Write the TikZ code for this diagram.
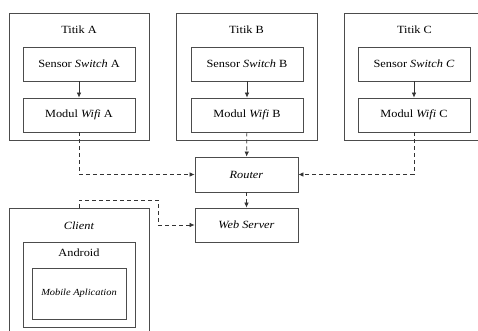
\documentclass[tikz,border=0pt]{standalone}
\usepackage{fontspec}
\setmainfont{Liberation Serif}[FakeStretch=1.12]
\usetikzlibrary{arrows.meta}
\begin{document}
\begin{tikzpicture}[
    x=1pt, y=-1pt,
    outer/.style={rectangle, draw=black!70, line width=0.8pt, minimum width=140pt, minimum height=127pt, inner sep=0pt},
    block/.style={rectangle, draw=black!70, line width=0.8pt, minimum width=112pt, minimum height=34pt, inner sep=0pt, font=\fontsize{11}{13}\selectfont},
    title/.style={inner sep=0pt, font=\fontsize{11}{13}\selectfont},
    line/.style={draw=black!80, line width=0.7pt, -{Latex[length=5pt,width=4.5pt]}},
    link/.style={line, dash pattern=on 4pt off 3pt}
]
    \useasboundingbox (0,0) rectangle (478,331);
    \clip (0,0) rectangle (478,331);

    % three measuring points
    \node [outer] (titikA) at (79,76.5) {};
    \node [outer, minimum width=141pt] (titikB) at (246.5,76.5) {};
    \node [outer, minimum width=141pt] (titikC) at (414.5,76.5) {};
    \node [title] (labelA) at (79,30) {Titik A};
    \node [title] (labelB) at (246.5,30) {Titik B};
    \node [title] (labelC) at (414.5,30) {Titik C};

    \node [block] (sensorA) at (79,64) {Sensor \textit{Switch} A};
    \node [block] (sensorB) at (247,64) {Sensor \textit{Switch} B};
    \node [block] (sensorC) at (414,64) {Sensor \textit{Switch C}};
    \node [block] (modulA) at (79,115) {Modul \textit{Wifi} A};
    \node [block] (modulB) at (247,115) {Modul \textit{Wifi} B};
    \node [block] (modulC) at (414,115) {Modul \textit{Wifi} C};

    % network
    \node [block, minimum width=103pt, minimum height=35pt] (router) at (246.5,174.5) {\textit{Router}};
    \node [block, minimum width=103pt] (server) at (246.5,225) {\textit{Web Server}};

    % client side
    \node [outer] (client) at (79,271.5) {};
    \node [title] (labelClient) at (79,226) {\textit{Client}};
    \node [outer, minimum width=112pt, minimum height=85pt] (android) at (79,284.5) {};
    \node [title] (labelAndroid) at (79,253) {Android};
    \node [block, minimum width=94pt, minimum height=51pt, font=\fontsize{9.3}{11}\selectfont] (mobile) at (79,293.5) {\textit{Mobile Aplication}};
    \coordinate (bend) at (158,200);

    \draw [line] (sensorA) -- (modulA);
    \draw [line] (sensorB) -- (modulB);
    \draw [line] (sensorC) -- (modulC);
    \draw [link] (modulA.south) |- (router.west);
    \draw [link] (modulB) -- (router);
    \draw [link] (modulC.south) |- (router.east);
    \draw [link] (router) -- (server);
    \draw [link] (client.north) |- (bend) |- (server.west);
\end{tikzpicture}
\end{document}
